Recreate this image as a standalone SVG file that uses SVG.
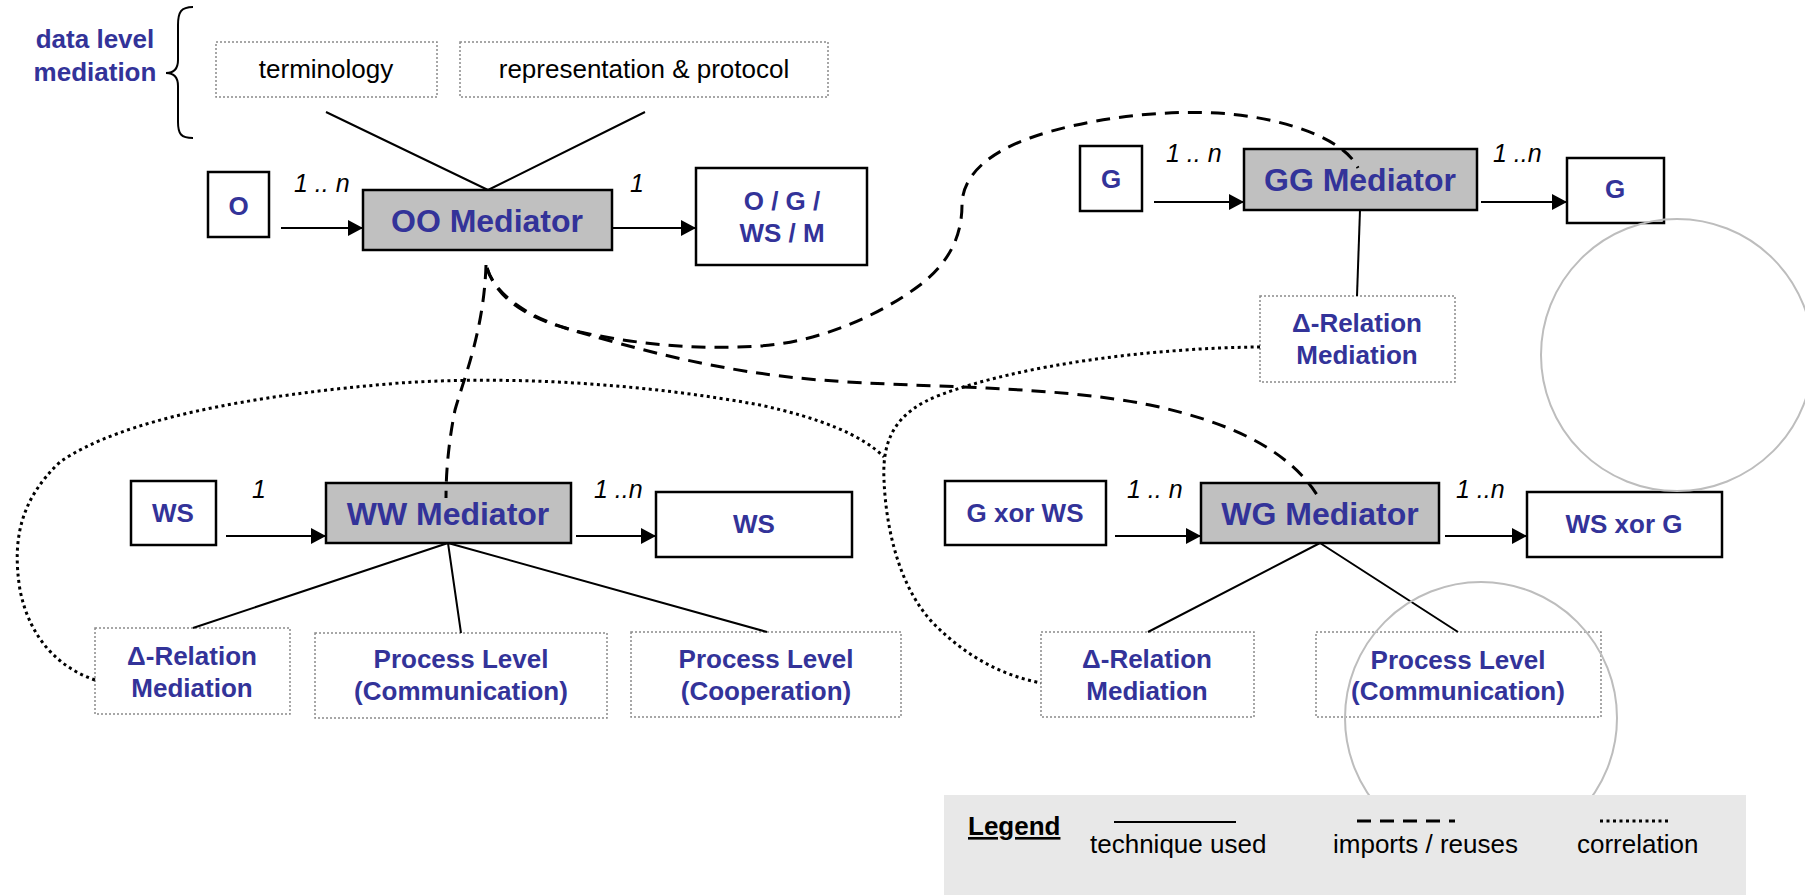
<svg xmlns="http://www.w3.org/2000/svg" width="1805" height="895" viewBox="0 0 1805 895">
<defs>
<style>
text{font-family:"Liberation Sans",Arial,sans-serif}
.lbl{font-size:26px;font-weight:bold;fill:#333399;text-anchor:middle}
.med{font-size:32px;font-weight:bold;fill:#333399;text-anchor:middle}
.plain{font-size:26px;fill:#000;text-anchor:middle}
.card{font-size:25px;font-style:italic;fill:#000}
.leg{font-size:26px;fill:#000}
.box{fill:#fff;stroke:#000;stroke-width:2.5}
.mbox{fill:#c0c0c0;stroke:#000;stroke-width:2.5}
.dbox{fill:#fff;stroke:#8a8a8a;stroke-width:1.5;stroke-dasharray:2 2}
.solid{fill:none;stroke:#000;stroke-width:2}
.arrow{fill:none;stroke:#000;stroke-width:2;marker-end:url(#ah)}
.dash{fill:none;stroke:#000;stroke-width:3;stroke-dasharray:14 9}
.dot{fill:none;stroke:#000;stroke-width:3;stroke-dasharray:3 3.5}
.ring{fill:none;stroke:#bdbdbd;stroke-width:2}
</style>
<marker id="ah" markerUnits="userSpaceOnUse" markerWidth="16" markerHeight="18" refX="15" refY="8" orient="auto">
<path d="M0,0 L15,8 L0,16 z" fill="#000"/>
</marker>
</defs>
<rect width="1805" height="895" fill="#fff"/>

<g id="data-level">
<path class="solid" d="M193,7 C181,7 178,12 178,25 L178,60 C178,70 173,73 166,73 C173,73 178,76 178,86 L178,122 C178,134 181,138 193,138"/>
<text class="lbl" x="95" y="48">data level</text>
<text class="lbl" x="95" y="81">mediation</text>
</g>

<g id="terminology"><rect class="dbox" x="216" y="42" width="221" height="55"/><text class="plain" x="326" y="78">terminology</text></g>
<g id="representation"><rect class="dbox" x="460" y="42" width="368" height="55"/><text class="plain" x="644" y="78">representation &amp; protocol</text></g>

<g id="O"><rect class="box" x="208" y="172" width="61" height="65"/><text class="lbl" x="238.5" y="215">O</text></g>
<g id="OO"><rect class="mbox" x="363" y="190" width="249" height="60"/><text class="med" x="487" y="232">OO Mediator</text></g>
<g id="OGWSM"><rect class="box" x="696" y="168" width="171" height="97"/><text class="lbl" x="782" y="210">O / G /</text><text class="lbl" x="782" y="242">WS / M</text></g>

<g id="G1"><rect class="box" x="1080" y="146" width="62" height="65"/><text class="lbl" x="1111" y="188">G</text></g>
<g id="GG"><rect class="mbox" x="1244" y="149" width="233" height="61"/><text class="med" x="1360" y="191">GG Mediator</text></g>
<g id="G2"><rect class="box" x="1567" y="158" width="97" height="65"/><text class="lbl" x="1615" y="198">G</text></g>
<g id="GG-delta"><rect class="dbox" x="1260" y="296" width="195" height="86"/><text class="lbl" x="1357" y="332">Δ-Relation</text><text class="lbl" x="1357" y="364">Mediation</text></g>

<g id="WS1"><rect class="box" x="131" y="481" width="85" height="64"/><text class="lbl" x="173" y="522">WS</text></g>
<g id="WW"><rect class="mbox" x="326" y="483" width="245" height="60"/><text class="med" x="448" y="525">WW Mediator</text></g>
<g id="WS2"><rect class="box" x="656" y="492" width="196" height="65"/><text class="lbl" x="754" y="533">WS</text></g>
<g id="WW-delta"><rect class="dbox" x="95" y="628" width="195" height="86"/><text class="lbl" x="192" y="665">Δ-Relation</text><text class="lbl" x="192" y="697">Mediation</text></g>
<g id="WW-comm"><rect class="dbox" x="315" y="633" width="292" height="85"/><text class="lbl" x="461" y="668">Process Level</text><text class="lbl" x="461" y="700">(Communication)</text></g>
<g id="WW-coop"><rect class="dbox" x="631" y="632" width="270" height="85"/><text class="lbl" x="766" y="668">Process Level</text><text class="lbl" x="766" y="700">(Cooperation)</text></g>

<g id="GxorWS"><rect class="box" x="945" y="481" width="161" height="64"/><text class="lbl" x="1025" y="522">G xor WS</text></g>
<g id="WG"><rect class="mbox" x="1201" y="483" width="238" height="60"/><text class="med" x="1320" y="525">WG Mediator</text></g>
<g id="WSxorG"><rect class="box" x="1527" y="492" width="195" height="65"/><text class="lbl" x="1624" y="533">WS xor G</text></g>
<g id="WG-delta"><rect class="dbox" x="1041" y="632" width="213" height="85"/><text class="lbl" x="1147" y="668">Δ-Relation</text><text class="lbl" x="1147" y="700">Mediation</text></g>
<g id="WG-comm"><rect class="dbox" x="1316" y="632" width="285" height="85"/><text class="lbl" x="1458" y="669">Process Level</text><text class="lbl" x="1458" y="700">(Communication)</text></g>

<g id="connectors">
<path class="solid" d="M326,112 L488,190 M645,112 L488,190"/>
<path class="solid" d="M1360,210 L1357,296"/>
<path class="solid" d="M448,543 L193,628 M448,543 L461,633 M448,543 L767,632"/>
<path class="solid" d="M1320,543 L1148,632 M1320,543 L1458,632"/>
<path class="arrow" d="M281,228 L363,228"/>
<path class="arrow" d="M612,228 L696,228"/>
<path class="arrow" d="M1154,202 L1244,202"/>
<path class="arrow" d="M1481,202 L1567,202"/>
<path class="arrow" d="M226,536 L326,536"/>
<path class="arrow" d="M576,536 L656,536"/>
<path class="arrow" d="M1115,536 L1201,536"/>
<path class="arrow" d="M1445,536 L1527,536"/>
<text class="card" x="294" y="192">1 .. n</text>
<text class="card" x="630" y="192">1</text>
<text class="card" x="1166" y="162">1 .. n</text>
<text class="card" x="1493" y="162">1 ..n</text>
<text class="card" x="252" y="498">1</text>
<text class="card" x="594" y="498">1 ..n</text>
<text class="card" x="1127" y="498">1 .. n</text>
<text class="card" x="1456" y="498">1 ..n</text>
<path class="dash" d="M486,265 C484,330 464,378 455,410 C449,440 446,470 446,498"/>
<path class="dash" d="M487,268 C495,295 530,320 580,332 C640,345 700,350 760,346 C820,342 880,315 920,285 C950,262 962,235 962,205 C962,175 990,152 1030,138 C1080,120 1160,108 1230,114 C1290,120 1345,140 1358,168"/>
<path class="dash" d="M487,268 C497,300 530,318 565,328 C640,350 720,372 820,380 C920,388 1050,385 1150,405 C1230,422 1290,450 1319,498"/>
<path class="dot" d="M95,680 C60,668 30,640 20,590 C12,540 20,500 60,462 C120,420 250,395 400,383 C520,375 650,385 760,405 C820,418 862,435 884,457"/>
<path class="dot" d="M1260,347 C1150,348 1020,365 940,395 C895,412 882,440 884,480 C886,530 900,590 935,625 C965,655 1000,675 1041,683"/>
</g>

<circle class="ring" cx="1677" cy="355" r="136"/>
<circle class="ring" cx="1481" cy="718" r="136"/>

<g id="legend">
<rect x="944" y="795" width="802" height="100" fill="#e8e8e8"/>
<text class="leg" x="968" y="835" font-weight="bold" text-decoration="underline">Legend</text>
<path class="solid" d="M1114,822 L1236,822"/>
<text class="leg" x="1090" y="853">technique used</text>
<path class="dash" d="M1357,821 L1455,821"/>
<text class="leg" x="1333" y="853">imports / reuses</text>
<path class="dot" d="M1600,821 L1671,821"/>
<text class="leg" x="1577" y="853">correlation</text>
</g>
</svg>
